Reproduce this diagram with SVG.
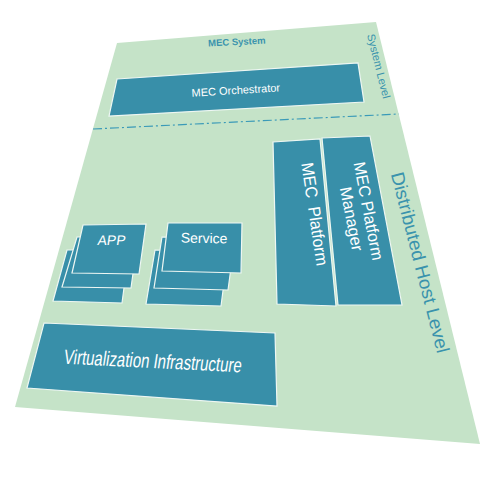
<svg xmlns="http://www.w3.org/2000/svg" width="498" height="490" viewBox="0 0 498 490">
<style>
.box{fill:#388fa9;stroke:#eef7f3;stroke-width:1.2}
.wt{fill:#ffffff;font-family:"Liberation Sans",Arial,sans-serif}
.bt{fill:#3a93ad;font-family:"Liberation Sans",Arial,sans-serif}
</style>
<rect width="498" height="490" fill="#ffffff"/>
<g id="plane">
<polygon points="117,43 376,22 480,444 15,407" fill="#c5e3c8"/>
</g>
<g id="separator">
<line x1="93" y1="129" x2="399" y2="114" stroke="#3a9ab8" stroke-width="1.2" stroke-dasharray="9 3 2 3"/>
</g>
<g id="labels">
<text class="bt" font-size="9.5" font-weight="bold" text-anchor="middle" transform="translate(237,45) rotate(-3)">MEC System</text>
<text class="bt" font-size="11" text-anchor="middle" transform="translate(375,67) rotate(76)">System Level</text>
<text class="bt" font-size="18.5" text-anchor="middle" textLength="186" lengthAdjust="spacingAndGlyphs" transform="translate(414,264) rotate(75.5)">Distributed Host Level</text>
</g>
<g id="orchestrator">
<polygon class="box" points="117,79 358,63 364,102 109,116"/>
<text class="wt" font-size="11" text-anchor="middle" transform="translate(236,94) rotate(-3.5)">MEC Orchestrator</text>
</g>
<g id="mec-platform">
<polygon class="box" points="273,142 320,139 336,306 277,304"/>
<text class="wt" font-size="17" text-anchor="middle" textLength="104" lengthAdjust="spacingAndGlyphs" xml:space="preserve" transform="translate(309,215) rotate(81.5)">MEC  Platform</text>
</g>
<g id="mec-platform-manager">
<polygon class="box" points="322,138 370,136 402,305 338,305"/>
<text class="wt" font-size="16.5" text-anchor="middle" textLength="100" lengthAdjust="spacingAndGlyphs" transform="translate(363,212) rotate(79)">MEC Platform</text>
<text class="wt" font-size="16.5" text-anchor="middle" transform="translate(346,220) rotate(79)">Manager</text>
</g>
<g id="app">
<polygon class="box" points="67,250 129,250 122,303 53,301"/>
<polygon class="box" points="77,237 138,237 131,288 62,287"/>
<polygon class="box" points="83,225 146,224 139,274 72,273"/>
<text class="wt" font-size="14" text-anchor="middle" transform="translate(111,245) skewX(-8)">APP</text>
</g>
<g id="service">
<polygon class="box" points="155,250 228,252 221,306 146,304"/>
<polygon class="box" points="162,237 235,238 228,290 154,288"/>
<polygon class="box" points="168,223 242,223 241,273 162,271"/>
<text class="wt" font-size="14" text-anchor="middle" transform="translate(204,243) rotate(1)">Service</text>
</g>
<g id="virtualization">
<polygon class="box" points="44,323 275,333 277,406 27,388"/>
<text class="wt" font-size="20.5" text-anchor="middle" textLength="178" lengthAdjust="spacingAndGlyphs" transform="translate(152,368) rotate(2.8) skewX(-6)">Virtualization Infrastructure</text>
</g>
</svg>
